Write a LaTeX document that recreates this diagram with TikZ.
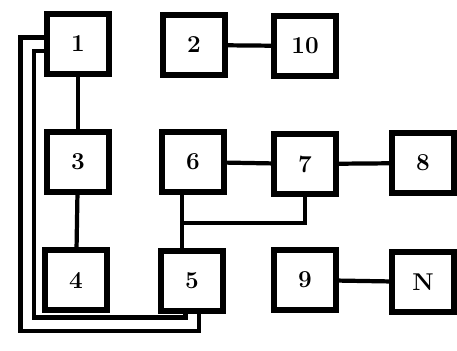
\documentclass[tikz,border=0pt]{standalone}
\usepackage{tikz}

\tikzset{
  blok/.style={draw, line width=4pt, minimum width=1.55cm, minimum height=1.5cm,
    inner sep=0pt, font=\LARGE\bfseries},
  ligacao/.style={line width=3pt},
  duplo/.style={line width=3.2pt, double, double distance=6.4pt}
}

\begin{document}
\begin{tikzpicture}[x=0.025cm, y=-0.025cm]
        \useasboundingbox (0,0) rectangle (457,350);

        % Blocos
        \foreach \n/\x/\y in {1/78/44, 2/194/45, 10/305/46,
                              3/78/162, 6/193/162, 7/305/164, 8/423/163,
                              4/76/280, 5/192/281, 9/305/280, N/423/282}
            \node[blok] (b\n) at (\x,\y) {\n};

        % Ligacoes
        \draw[ligacao] (b1) -- (b3);
        \draw[ligacao] (b3) -- (b4);
        \draw[ligacao] (b2) -- (b10);
        \draw[ligacao] (b6) -- (b7);
        \draw[ligacao] (b7) -- (b8);
        \draw[ligacao] (b9) -- (bN);

        % Ramo 6 -- 5 e retorno de 7
        \coordinate (j) at (182,223);
        \draw[ligacao] (j |- b6.south) -- (j |- b5.north);
        \draw[ligacao] (b7.south) |- (j);

        % Linha dupla 1 -- 5
        \draw[duplo] (b1.west) -| (27,324) -| (b5.south);
    \end{tikzpicture}
\end{document}
